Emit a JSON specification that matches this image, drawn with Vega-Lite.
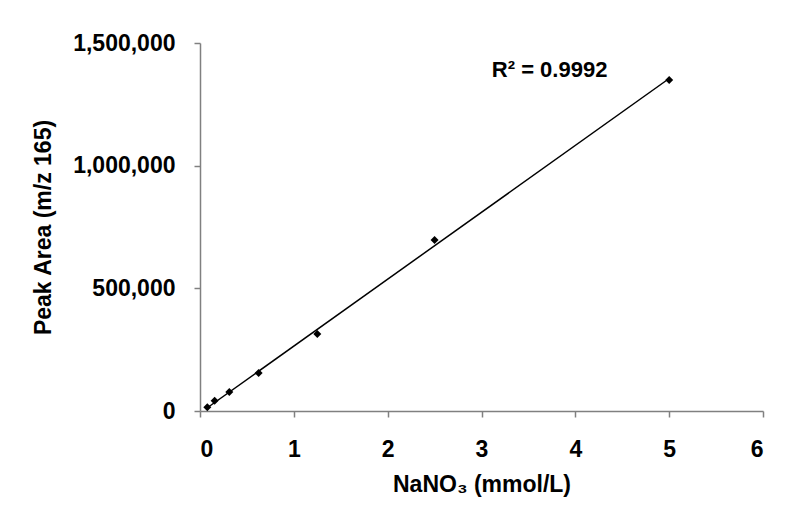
{
  "$schema": "https://vega.github.io/schema/vega-lite/v6.json",
  "width": 563,
  "height": 368,
  "autosize": {"type": "none"},
  "padding": {"left": 200, "top": 43, "right": 37, "bottom": 113},
  "background": "white",
  "config": {
    "view": {"stroke": null},
    "font": "Liberation Sans",
    "axis": {
      "grid": false,
      "domainColor": "#808080",
      "domainWidth": 1.5,
      "tickColor": "#808080",
      "tickWidth": 1.5,
      "tickSize": 6,
      "labelFont": "Liberation Sans",
      "labelFontWeight": "bold",
      "labelFontSize": 23,
      "labelColor": "black",
      "titleFont": "Liberation Sans",
      "titleFontWeight": "bold",
      "titleFontSize": 23,
      "titleColor": "black"
    }
  },
  "data": {
    "values": [
      {"conc": 0.078, "area": 15000},
      {"conc": 0.156, "area": 42000},
      {"conc": 0.3125, "area": 77000},
      {"conc": 0.625, "area": 155000},
      {"conc": 1.25, "area": 314000},
      {"conc": 2.5, "area": 697000},
      {"conc": 5, "area": 1349000}
    ]
  },
  "layer": [
    {
      "transform": [{"regression": "area", "on": "conc"}],
      "mark": {"type": "line", "color": "black", "strokeWidth": 1.5},
      "encoding": {
        "x": {"field": "conc", "type": "quantitative"},
        "y": {"field": "area", "type": "quantitative"}
      }
    },
    {
      "mark": {"type": "point", "shape": "diamond", "filled": true, "color": "black", "size": 64, "opacity": 1},
      "encoding": {
        "x": {
          "field": "conc",
          "type": "quantitative",
          "scale": {"domain": [0, 6], "nice": false},
          "axis": {"values": [0, 1, 2, 3, 4, 5, 6], "format": "d", "labelPadding": 21, "title": "NaNO₃ (mmol/L)", "titlePadding": 12}
        },
        "y": {
          "field": "area",
          "type": "quantitative",
          "scale": {"domain": [0, 1500000], "nice": false},
          "axis": {"values": [0, 500000, 1000000, 1500000], "format": ",d", "labelPadding": 19, "title": "Peak Area (m/z 165)", "titlePadding": 17}
        }
      }
    },
    {
      "data": {"values": [{"conc": 3.11, "area": 1361000, "label": "R² = 0.9992"}]},
      "mark": {"type": "text", "align": "left", "baseline": "alphabetic", "fontSize": 22, "fontWeight": "bold", "color": "black"},
      "encoding": {
        "x": {"field": "conc", "type": "quantitative"},
        "y": {"field": "area", "type": "quantitative"},
        "text": {"field": "label"}
      }
    }
  ]
}
